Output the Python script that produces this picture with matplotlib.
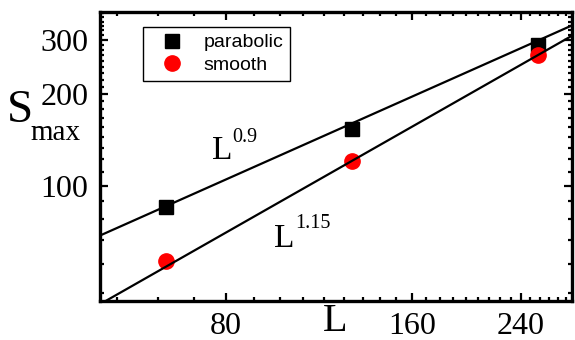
import numpy as np
import matplotlib
matplotlib.use("Agg")
import matplotlib.pyplot as plt
from matplotlib.ticker import FixedLocator, NullFormatter

# data
L = [64, 128, 256]
s_parabolic = [85.4, 153.6, 289.0]
s_smooth = [56.8, 120.7, 268.0]

# power-law guide lines S = A * L^b
A_09, b_09 = 2.03, 0.9
A_115, b_115 = 0.455, 1.15

x_major = [80, 160, 240]
y_major = [100, 200, 300]

W, H = 575, 340
fig = plt.figure(figsize=(W / 100, H / 100), dpi=100)
ax = fig.add_axes([99.5 / W, 1 - 301 / H, 472 / W, 289 / H])

serif = "Liberation Serif"
sans = "Liberation Sans"

Lfit = np.geomspace(50, 290, 200)
ax.plot(Lfit, A_09 * Lfit ** b_09, color="black", lw=1.6, zorder=2)
ax.plot(L, s_parabolic, "s", color="black", ms=10, zorder=3, label="parabolic")
ax.plot(L, s_smooth, "o", color="red", ms=11, mec="red", zorder=4, label="smooth")
ax.plot(Lfit, A_115 * Lfit ** b_115, color="black", lw=1.6, zorder=5)

ax.set_xscale("log")
ax.set_yscale("log")
ax.set_xlim(50, 290)
ax.set_ylim(42, 370)

# origin-style ticks: 8 minor ticks between majors
xminor = [80 / 9 * k for k in range(6, 33) if k % 9]
yminor = [100 / 9 * k for k in range(4, 34) if k % 9]
ax.xaxis.set_major_locator(FixedLocator(x_major))
ax.xaxis.set_minor_locator(FixedLocator(xminor))
ax.yaxis.set_major_locator(FixedLocator(y_major))
ax.yaxis.set_minor_locator(FixedLocator(yminor))
ax.set_xticklabels([str(v) for v in x_major])
ax.set_yticklabels([str(v) for v in y_major])
ax.xaxis.set_minor_formatter(NullFormatter())
ax.yaxis.set_minor_formatter(NullFormatter())

ax.tick_params(which="both", direction="in", top=True, right=True, width=1.6)
ax.tick_params(which="major", length=6, pad=8)
ax.tick_params(which="minor", length=3)
for lab in ax.get_xticklabels() + ax.get_yticklabels():
    lab.set_fontfamily(serif)
    lab.set_fontsize(23)
for sp in ax.spines.values():
    sp.set_linewidth(2.4)

leg = ax.legend(loc="upper left", bbox_to_anchor=(0.092, 0.948), borderaxespad=0,
                prop={"family": sans, "size": 14}, fancybox=False, framealpha=1,
                edgecolor="black", handlelength=2.3, handletextpad=0.45,
                borderpad=0.35, labelspacing=0.25)
leg.get_frame().set_linewidth(1.0)

def ftext(x, y, s, size):
    fig.text(x / W, 1 - y / H, s, fontsize=size, family=serif, va="baseline")

# axis labels
ftext(7, 122, "S", 34)
ftext(30, 140, "max", 21)
ftext(323, 331, "L", 29)

# exponent annotations
ftext(212, 159, "L", 24)
ftext(232, 142, "0.9", 14.5)
ftext(274, 247, "L", 24)
ftext(295, 228, "1.15", 14.5)

fig.savefig("out.png", dpi=100)
